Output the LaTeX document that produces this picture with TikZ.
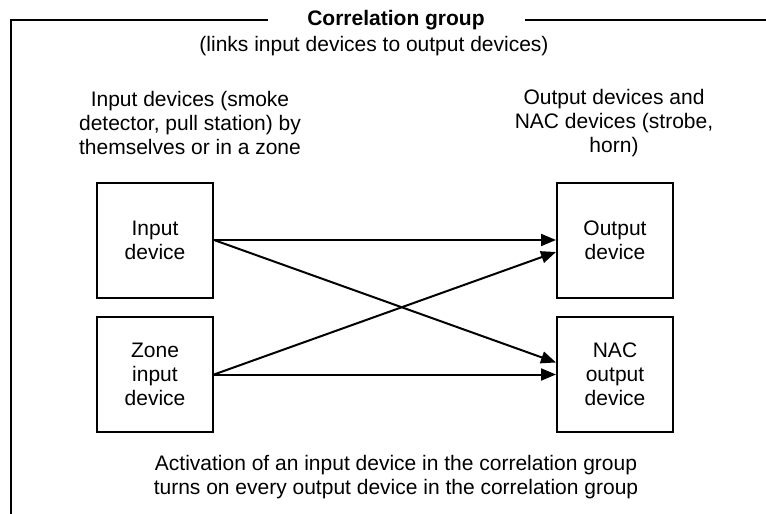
\documentclass[tikz,border=0pt]{standalone}
\usepackage{fontspec}
\setmainfont{Liberation Sans}
\usetikzlibrary{arrows.meta}
\begin{document}
\begin{tikzpicture}[x=1pt,y=-1pt,
  txt/.style={align=center,inner sep=0pt,font=\fontsize{21}{24}\selectfont},
  devbox/.style={draw,line width=2pt,minimum width=116pt,minimum height=115pt,inner sep=0pt,align=center,font=\fontsize{21}{24}\selectfont},
  frameline/.style={line width=2pt},
  link/.style={line width=2pt,-{Triangle[length=15pt,width=12pt]}}]
\useasboundingbox (0,0) rectangle (766,514);
% frame
\coordinate (fbl) at (11,515);
\coordinate (ftl) at (11,20);
\coordinate (ftm) at (268,20);
\coordinate (frm) at (525,20);
\coordinate (frr) at (767,20);
\draw[frameline] (fbl) -- (ftl) -- (ftm);
\draw[frameline] (frm) -- (frr);
% titles
\node[txt,font=\fontsize{21}{24}\selectfont\bfseries] (title) at (396,20) {Correlation group};
\node[txt] (sub) at (374,46) {(links input devices to output devices)};
\node[txt] (inlab) at (190,123) {Input devices (smoke\\detector, pull station) by\\themselves or in a zone};
\node[txt] (outlab) at (614,123) {Output devices and\\NAC devices (strobe,\\horn)};
% boxes
\node[devbox] (in) at (155,240) {Input\\device};
\node[devbox] (zone) at (155,374.5) {Zone\\input\\device};
\node[devbox] (out) at (615,240) {Output\\device};
\node[devbox] (nac) at (615,374.5) {NAC\\output\\device};
% links
\draw[link] (in.east) -- (out.west);
\draw[link] (in.east) -- ([yshift=12pt]nac.west);
\draw[link] (zone.east) -- ([yshift=-12pt]out.west);
\draw[link] (zone.east) -- (nac.west);
% bottom note
\node[txt] (note) at (396,477) {Activation of an input device in the correlation group\\turns on every output device in the correlation group};
\end{tikzpicture}
\end{document}
